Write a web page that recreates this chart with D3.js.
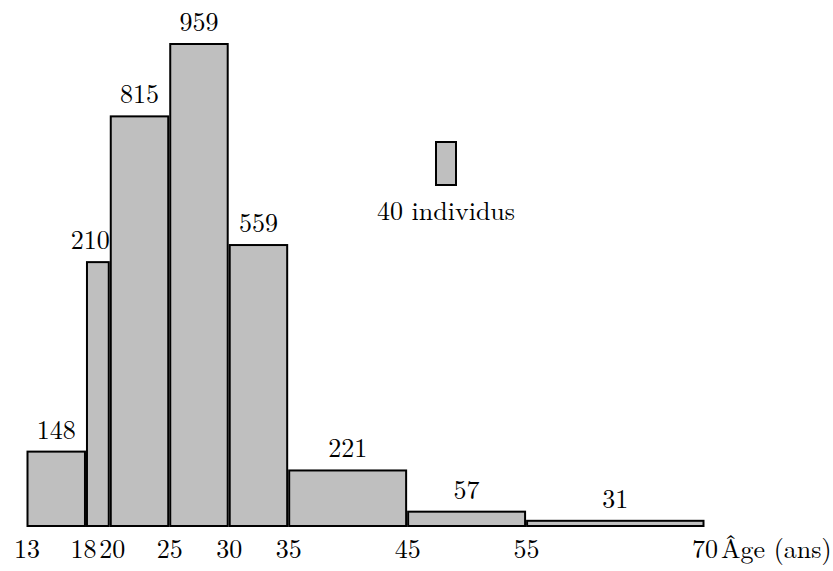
<!DOCTYPE html>
<html><head><meta charset="utf-8">
<script src="https://cdn.jsdelivr.net/npm/d3@7"></script>
<style>body{margin:0;background:#fff}svg{display:block}</style>
</head><body>
<script>
const edges = [13, 18, 20, 25, 30, 35, 45, 55, 70];
const counts = [148, 210, 815, 959, 559, 221, 57, 31];
const tickLabels = ["13", "18", "20", "25", "30", "35", "45", "55", "70"];
const legendCount = 40;
const axisTitle = "Âge (ans)";

const FONT = "'Latin Modern Roman'";
const FS = 26;
const W = 833, H = 571;
const svg = d3.select("body").append("svg").attr("width", W).attr("height", H);
const x = d3.scaleLinear().domain([13, 70]).range([26.5, 704.5]);
const bins = counts.map((c, i) => ({lo: edges[i], hi: edges[i+1], count: c, dens: c / (edges[i+1] - edges[i])}));
const y = d3.scaleLinear().domain([0, d3.max(bins, d => d.dens)]).range([526, 44]);

svg.append("g").selectAll("rect").data(bins).join("rect")
  .attr("x", d => x(d.lo) + 1)
  .attr("width", d => x(d.hi) - x(d.lo) - 2)
  .attr("y", d => y(d.dens))
  .attr("height", d => y(0) - y(d.dens))
  .attr("fill", "#bfbfbf").attr("stroke", "#000").attr("stroke-width", 2);

svg.append("g").selectAll("text").data(bins).join("text")
  .attr("x", d => (d.hi - d.lo) < 3 ? x(d.hi) : (x(d.lo) + x(d.hi)) / 2)
  .attr("y", d => y(d.dens) - 13)
  .attr("text-anchor", d => (d.hi - d.lo) < 3 ? "end" : "middle")
  .attr("font-size", FS).attr("fill", "#000")
  .style("font-family", FONT)
  .text(d => d.count);

const axis = d3.axisBottom(x).tickValues(edges).tickFormat((d, i) => tickLabels[i]).tickSize(0).tickPadding(0);
const gA = svg.append("g").attr("transform", "translate(0,540)").call(axis);
gA.select(".domain").remove();
gA.attr("font-family", null).attr("font-size", null);
gA.selectAll("text").attr("font-size", FS).attr("fill", "#000").style("font-family", FONT).attr("dy", "0.71em")
  .attr("dx", (d) => d === 18 ? -3 : (d === 20 ? 2 : 0));

svg.append("text").attr("x", 721).attr("y", 558).attr("font-size", FS).style("font-family", FONT).text(axisTitle);

// legend key
const lg = svg.append("g");
lg.append("rect").attr("x", 436).attr("y", 142).attr("width", 20).attr("height", 43)
  .attr("fill", "#bfbfbf").attr("stroke", "#000").attr("stroke-width", 2);
lg.append("text").attr("x", 446).attr("y", 220).attr("text-anchor", "middle").attr("font-size", FS)
  .style("font-family", FONT)
  .text(legendCount + " individus");
</script>
</body></html>
